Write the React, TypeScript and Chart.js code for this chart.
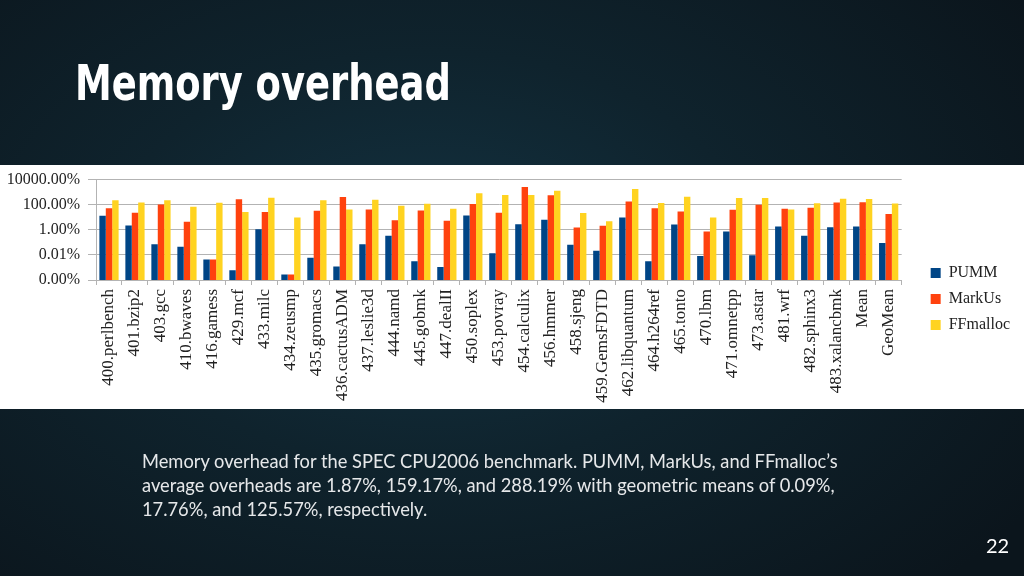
import React, { useEffect, useRef } from "react";
import { Chart, registerables } from "chart.js";

Chart.register(...registerables);

const categories = [
  "400.perlbench", "401.bzip2", "403.gcc", "410.bwaves", "416.gamess", "429.mcf",
  "433.milc", "434.zeusmp", "435.gromacs", "436.cactusADM", "437.leslie3d", "444.namd",
  "445.gobmk", "447.dealII", "450.soplex", "453.povray", "454.calculix", "456.hmmer",
  "458.sjeng", "459.GemsFDTD", "462.libquantum", "464.h264ref", "465.tonto", "470.lbm",
  "471.omnetpp", "473.astar", "481.wrf", "482.sphinx3", "483.xalancbmk", "Mean", "GeoMean",
];

const pumm = [
  13, 2.2, 0.07, 0.044, 0.0043, 0.0006,
  1.1, 0.00028, 0.006, 0.0012, 0.071, 0.33,
  0.0031, 0.0011, 14, 0.0136, 2.8, 6.3,
  0.063, 0.021, 9.7, 0.0031, 2.7, 0.0083,
  0.74, 0.0094, 1.85, 0.33, 1.6, 1.87, 0.09,
];

const markus = [
  51, 23, 106, 4.4, 0.0043, 267,
  26, 0.00028, 33, 410, 42, 5.9,
  35, 5.2, 113, 23, 2600, 560,
  1.5, 2.1, 184, 51, 29, 0.74,
  40, 100, 48, 57, 153, 159.17, 17.76,
];

const ffmalloc = [
  222, 153, 222, 69, 145, 26,
  363, 9.7, 222, 42, 251, 83,
  120, 48, 806, 595, 595, 1318,
  21.5, 4.9, 1790, 136, 436, 9.7,
  340, 340, 42, 128, 302, 288.19, 125.57,
];

const seriesNames = ["PUMM", "MarkUs", "FFmalloc"];
const yTickValues = [10000, 100, 1, 0.01, 0.0001];

const serif = "'Liberation Serif', 'DejaVu Serif', serif";

function ChartBox() {
  const ref = useRef<HTMLCanvasElement | null>(null);
  useEffect(() => {
    if (!ref.current) return;
    const chart = new Chart(ref.current, {
      type: "bar",
      data: {
        labels: categories,
        datasets: [
          { label: seriesNames[0], data: pumm, backgroundColor: "#004586" },
          { label: seriesNames[1], data: markus, backgroundColor: "#ff420e" },
          { label: seriesNames[2], data: ffmalloc, backgroundColor: "#ffd320" },
        ],
      },
      options: {
        animation: false,
        responsive: false,
        maintainAspectRatio: false,
        datasets: { bar: { categoryPercentage: 0.74, barPercentage: 1.0 } },
        layout: { padding: { top: 3, right: 4, left: 0, bottom: 0 } },
        plugins: {
          tooltip: { enabled: false },
          legend: {
            position: "right",
            align: "center",
            title: { display: true, text: " ", font: { size: 10 }, padding: { top: 12, bottom: 0 } },
            labels: {
              boxWidth: 10,
              boxHeight: 10,
              padding: 10,
              color: "#222",
              font: { family: serif, size: 16 },
            },
          },
        },
        scales: {
          x: {
            grid: {
              offset: true,
              drawOnChartArea: true,
              color: (ctx: any) => (ctx.index === categories.length ? "#b3b3b3" : "rgba(0,0,0,0)"),
              tickColor: "#b3b3b3",
              tickLength: 5,
            },
            border: { color: "#b3b3b3" },
            ticks: {
              autoSkip: false,
              minRotation: 90,
              maxRotation: 90,
              padding: 4,
              color: "#222",
              font: { family: serif, size: 17 },
            },
            afterFit: (s: any) => {
              s.height = 129;
            },
          },
          y: {
            type: "logarithmic",
            min: 0.0001,
            max: 10000,
            afterBuildTicks: (s: any) => {
              s.ticks = yTickValues.map((v) => ({ value: v }));
            },
            afterFit: (s: any) => {
              s.width = 96;
            },
            grid: { color: "#b3b3b3", tickColor: "#b3b3b3", tickLength: 8 },
            border: { color: "#b3b3b3" },
            ticks: {
              padding: 8,
              color: "#222",
              font: { family: serif, size: 16 },
              callback: (v: any) => Number(v).toFixed(2) + "%",
            },
          },
          y2: {
            position: "right",
            display: true,
            grid: { display: false, drawTicks: false },
            border: { display: false },
            ticks: { display: false },
            afterFit: (s: any) => {
              s.width = 19;
            },
          },
        },
      },
    });
    return () => chart.destroy();
  }, []);
  return (
    <canvas
      ref={ref}
      width={1024}
      height={247}
      style={{ display: "block", position: "absolute", left: 0, top: -3 }}
    />
  );
}

export default function App() {
  return (
    <div
      style={{
        position: "fixed",
        left: 0,
        top: 0,
        width: 1024,
        height: 576,
        overflow: "hidden",
        background:
          "radial-gradient(ellipse 70% 80% at 42% 45%, #133241 0%, #0f232d 45%, #0b151c 100%)",
      }}
    >
      <div
        style={{
          position: "absolute",
          left: 75,
          top: 53,
          color: "#ffffff",
          fontFamily: "'DejaVu Sans Condensed', 'DejaVu Sans', sans-serif",
          fontWeight: 700,
          fontSize: 50,
          lineHeight: "60px",
          whiteSpace: "nowrap",
          transform: "scaleX(0.82)",
          transformOrigin: "left top",
        }}
      >
        Memory overhead
      </div>
      <div
        style={{
          position: "absolute",
          left: 0,
          top: 165,
          width: 1024,
          height: 244,
          background: "#ffffff",
          overflow: "hidden",
        }}
      >
        <ChartBox />
      </div>
      <div
        style={{
          position: "absolute",
          left: 142,
          top: 449,
          width: 780,
          color: "#e6e8ea",
          fontFamily: "Lato, 'Open Sans', sans-serif",
          fontSize: 18.3,
          lineHeight: "24px",
        }}
      >
        Memory overhead for the SPEC CPU2006 benchmark. PUMM, MarkUs, and FFmalloc’s
        <br />
        average overheads are 1.87%, 159.17%, and 288.19% with geometric means of 0.09%,
        <br />
        17.76%, and 125.57%, respectively.
      </div>
      <div
        style={{
          position: "absolute",
          left: 986,
          top: 533,
          color: "#ffffff",
          fontFamily: "Lato, 'Open Sans', sans-serif",
          fontSize: 20,
          lineHeight: "24px",
        }}
      >
        22
      </div>
    </div>
  );
}
